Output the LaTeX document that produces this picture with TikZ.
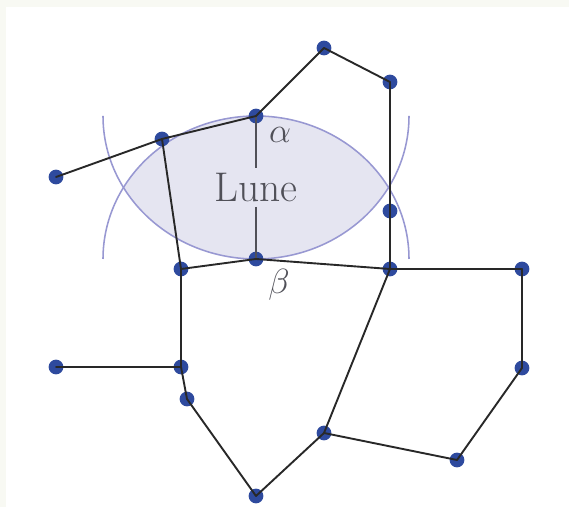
\documentclass[tikz,border=0pt]{standalone}
\usepackage{tikz}
\usetikzlibrary{positioning}

\definecolor{dotblue}{RGB}{46,74,158}
\definecolor{edgegray}{RGB}{40,40,40}
\definecolor{lunefill}{RGB}{229,229,241}
\definecolor{lunedraw}{RGB}{152,152,210}
\definecolor{labelgray}{RGB}{80,80,88}
\definecolor{pagetint}{RGB}{248,249,243}

\begin{document}
\begin{tikzpicture}[
      x=0.25mm, y=0.25mm,
      vertex/.style={circle, fill=dotblue, inner sep=0pt, minimum size=10.5},
      edge/.style={draw=edgegray, line width=1.35pt, line cap=round},
      lunearc/.style={draw=lunedraw, line width=1.1pt},
      lunelink/.style={draw=labelgray, line width=1.35pt},
      bigtext/.style={text=labelgray, font=\fontsize{29.5}{34}\selectfont},
    ]
    % page and margins
    \fill[pagetint] (0,0) rectangle (569,507);
    \fill[white] (6,0) rectangle (569,500);
    \useasboundingbox (0,0) rectangle (569,507);

    % Lune region
    \begin{scope}
      \clip (256,391) ellipse [x radius=153, y radius=143];
      \fill[lunefill] (256,248) ellipse [x radius=153, y radius=143];
    \end{scope}
    \draw[lunearc] (103,391) arc [start angle=180, end angle=360, x radius=153, y radius=143];
    \draw[lunearc] (409,248) arc [start angle=0, end angle=180, x radius=153, y radius=143];

    % Vertices
    \node[vertex] (top) at (324,459) {};
    \node[vertex] (topr) at (390,425) {};
    \node[vertex] (alpha) at (256,391) {};
    \node[vertex] (upl) at (162,368) {};
    \node[vertex] (farl) at (56,330) {};
    \node[vertex] (midr) at (390,296) {};
    \node[vertex] (beta) at (256,248) {};
    \node[vertex] (cornl) at (181,238) {};
    \node[vertex] (cornr) at (390,238) {};
    \node[vertex] (eastu) at (522,238) {};
    \node[vertex] (westd) at (56,140) {};
    \node[vertex] (joinl) at (181,140) {};
    \node[vertex] (kink) at (187,108) {};
    \node[vertex] (eastd) at (522,139) {};
    \node[vertex] (low) at (324,74) {};
    \node[vertex] (lowr) at (457,47) {};
    \node[vertex] (bot) at (256,11) {};

    % Labels
    \node[bigtext] (lune) at (256,319.5) {Lune};
    \node[bigtext] (alab) at (280,372) {$\alpha$};
    \node[bigtext] (blab) at (279,222) {$\beta$};

    % alpha-beta link through the label
    \draw[lunelink] (alpha.center) -- (lune.north);
    \draw[lunelink] (lune.south) -- (beta.center);

    % Edges
    \draw[edge] (farl.center) -- (upl.center);
    \draw[edge] (upl.center) -- (alpha.center);
    \draw[edge] (alpha.center) -- (top.center);
    \draw[edge] (top.center) -- (topr.center);
    \draw[edge] (topr.center) -- (midr.center);
    \draw[edge] (midr.center) -- (cornr.center);
    \draw[edge] (upl.center) -- (cornl.center);
    \draw[edge] (cornl.center) -- (beta.center);
    \draw[edge] (beta.center) -- (cornr.center);
    \draw[edge] (cornr.center) -- (eastu.center);
    \draw[edge] (eastu.center) -- (eastd.center);
    \draw[edge] (eastd.center) -- (lowr.center);
    \draw[edge] (lowr.center) -- (low.center);
    \draw[edge] (low.center) -- (cornr.center);
    \draw[edge] (cornl.center) -- (joinl.center);
    \draw[edge] (westd.center) -- (joinl.center);
    \draw[edge] (joinl.center) -- (kink.center);
    \draw[edge] (kink.center) -- (bot.center);
    \draw[edge] (bot.center) -- (low.center);
  \end{tikzpicture}
\end{document}
